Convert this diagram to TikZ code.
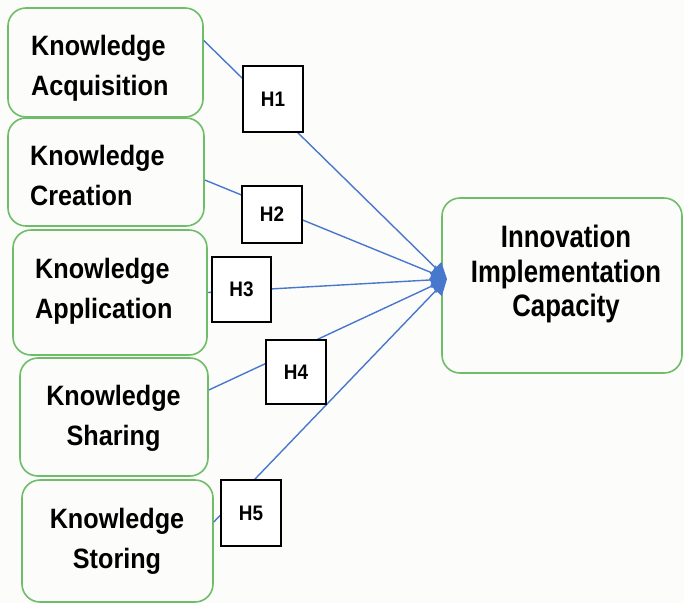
\documentclass[tikz,border=0pt]{standalone}
\usepackage{fontspec}
\setmainfont{Liberation Sans}
\newfontfamily\boxfont{Liberation Sans}[FakeStretch=0.9]
\newfontfamily\targetfont{Liberation Sans}[FakeStretch=0.83]
\usetikzlibrary{arrows.meta}
\definecolor{kgreen}{RGB}{110,190,105}
\definecolor{linkblue}{RGB}{72,120,205}
\definecolor{paper}{RGB}{252,252,250}

\begin{document}
\begin{tikzpicture}[x=1pt,y=-1pt,
  kbox/.style={draw=kgreen, line width=1.6pt, rounded corners=18pt, fill=paper, inner sep=0pt},
  ktext/.style={inner sep=0pt, font=\boxfont\bfseries\fontsize{28}{40}\selectfont},
  ttext/.style={inner sep=0pt, font=\targetfont\bfseries\fontsize{31}{34.5}\selectfont},
  hbox/.style={draw=black, line width=1.4pt, fill=white, inner sep=0pt,
    font=\boxfont\bfseries\fontsize{21}{24}\selectfont},
  link/.style={draw=linkblue, line width=1.4pt, -{Triangle[length=16pt,width=16pt]}}]

% canvas
\fill[paper] (0,0) rectangle (684,603);
\useasboundingbox (0,0) rectangle (684,603);

% knowledge process boxes
\node[kbox, minimum width=195pt, minimum height=109pt] (ka) at (105.5,62.5) {};
\node[kbox, minimum width=196pt, minimum height=108pt] (kc) at (106,172) {};
\node[kbox, minimum width=194pt, minimum height=125pt] (kp) at (110,292.5) {};
\node[kbox, minimum width=188pt, minimum height=118pt] (ks) at (114,417) {};
\node[kbox, minimum width=191pt, minimum height=122pt] (kt) at (117.5,541) {};

% outcome box
\node[kbox, minimum width=240pt, minimum height=175pt] (iic) at (562,285.5) {};

% box labels
\node[ktext, anchor=north west, align=left] (kat) at (31,35) {Knowledge\\Acquisition};
\node[ktext, anchor=north west, align=left] (kct) at (30,145) {Knowledge\\Creation};
\node[ktext, anchor=north west, align=left] (kpt) at (35,258) {Knowledge\\Application};
\node[ktext, anchor=north, align=center] (kst) at (113.5,385) {Knowledge\\Sharing};
\node[ktext, anchor=north, align=center] (ktt) at (117,508) {Knowledge\\Storing};
\node[ttext, anchor=north, align=center] (iict) at (566,225) {Innovation\\Implementation\\Capacity};

% hypothesised paths
\coordinate (tip) at (447,279);
\draw[link] ([yshift=22pt]ka.east) -- (tip);
\draw[link] ([yshift=-8pt]kc.east) -- (tip);
\draw[link] (kp.east) -- (tip);
\draw[link] ([yshift=27pt]ks.east) -- (tip);
\draw[link] ([yshift=19pt]kt.east) -- (tip);

% hypothesis tags
\node[hbox, minimum width=60pt, minimum height=66pt] (h1) at (273,99) {H1};
\node[hbox, minimum width=60pt, minimum height=57pt] (h2) at (272,214.5) {H2};
\node[hbox, minimum width=59pt, minimum height=65pt] (h3) at (241.5,289.5) {H3};
\node[hbox, minimum width=60pt, minimum height=64pt] (h4) at (296,372) {H4};
\node[hbox, minimum width=60pt, minimum height=66pt] (h5) at (251,513) {H5};
\end{tikzpicture}
\end{document}
